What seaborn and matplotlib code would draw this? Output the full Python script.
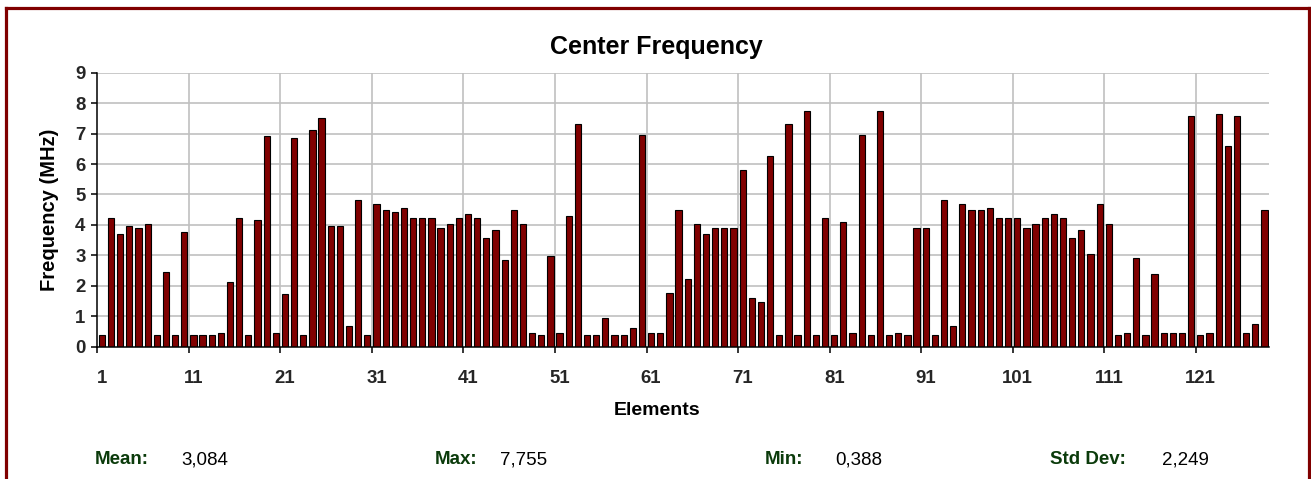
import matplotlib
matplotlib.use("Agg")
import matplotlib.pyplot as plt
from matplotlib.lines import Line2D
from matplotlib.ticker import FixedLocator
import seaborn as sns
import pandas as pd

# ---- data ----
elements = list(range(1, 129))
frequency = [
    0.388, 4.22, 3.70, 3.96, 3.89, 4.02, 0.388, 2.45, 0.388, 3.76,
    0.388, 0.388, 0.388, 0.45, 2.12, 4.22, 0.388, 4.15, 6.91, 0.45,
    1.72, 6.84, 0.388, 7.11, 7.50, 3.96, 3.96, 0.67, 4.81, 0.388,
    4.68, 4.48, 4.41, 4.54, 4.22, 4.22, 4.22, 3.89, 4.02, 4.22,
    4.35, 4.22, 3.56, 3.82, 2.84, 4.48, 4.02, 0.45, 0.388, 2.97,
    0.45, 4.29, 7.30, 0.388, 0.388, 0.93, 0.388, 0.388, 0.60, 6.97,
    0.45, 0.45, 1.78, 4.48, 2.24, 4.02, 3.69, 3.89, 3.89, 3.89,
    5.79, 1.59, 1.46, 6.25, 0.388, 7.30, 0.388, 7.755, 0.388, 4.22,
    0.388, 4.08, 0.45, 6.97, 0.388, 7.755, 0.388, 0.45, 0.388, 3.89,
    3.89, 0.388, 4.81, 0.67, 4.68, 4.48, 4.48, 4.54, 4.22, 4.22,
    4.22, 3.89, 4.02, 4.22, 4.35, 4.22, 3.56, 3.82, 3.03, 4.68,
    4.02, 0.388, 0.45, 2.90, 0.388, 2.38, 0.45, 0.45, 0.45, 7.57,
    0.388, 0.45, 7.63, 6.58, 7.57, 0.45, 0.73, 4.48,
]
y_ticks = list(range(0, 10))
x_tick_labels = ["1", "11", "21", "31", "41", "51", "61", "71", "81", "91", "101", "111", "121"]
stat_names = ["Mean:", "Max:", "Min:", "Std Dev:"]
stat_values = ["3,084", "7,755", "0,388", "2,249"]

df = pd.DataFrame({"Element": [str(e) for e in elements], "Frequency": frequency})

# ---- style ----
sns.set_theme(style="white")
plt.rcParams["font.family"] = ["Liberation Sans", "DejaVu Sans"]

W, H = 1311, 479
fig = plt.figure(figsize=(W / 100, H / 100), dpi=100)
fig.patch.set_facecolor("white")

def fx(px):
    return px / W

def fy(py):
    return 1 - py / H

ax_left, ax_right, ax_top, ax_bot = 97.3, 1269.0, 72.7, 346.7
ax = fig.add_axes([fx(ax_left), fy(ax_bot), fx(ax_right - ax_left), (ax_bot - ax_top) / H])

sns.barplot(data=df, x="Element", y="Frequency", order=df["Element"], color="#800000",
            saturation=1, width=0.68, edgecolor="black", linewidth=0.8, ax=ax, zorder=3)

ax.set_xlim(-0.5, len(elements) - 0.5)
ax.set_ylim(0, 9)
ax.set_xlabel("")
ax.set_ylabel("")

# y axis
ax.set_yticks(y_ticks)
ax.set_yticklabels([str(t) for t in y_ticks], fontweight="bold", fontsize=13.4)
ax.tick_params(axis="y", direction="out", length=4.5, width=1.1, color="black", pad=4, left=True)

# x axis: labels at category centres, tick marks at category boundaries
label_pos = [elements.index(int(t)) for t in x_tick_labels]
ax.set_xticks(label_pos)
ax.set_xticklabels(x_tick_labels, fontweight="bold", fontsize=13.4)
ax.tick_params(axis="x", which="major", length=0, pad=17)
ax.xaxis.set_minor_locator(FixedLocator([p - 0.5 for p in label_pos]))
ax.tick_params(axis="x", which="minor", direction="out", length=4.5, width=1.1, color="black", bottom=True)

# grid
ax.grid(False)
for y in y_ticks[1:]:
    ax.axhline(y, color="#c0c0c0", linewidth=1.2, zorder=1)
for p in label_pos[1:]:
    ax.axvline(p - 0.5, color="#c0c0c0", linewidth=1.2, zorder=1)

for s in ["top", "right"]:
    ax.spines[s].set_visible(False)
for s in ["left", "bottom"]:
    ax.spines[s].set_color("black")
    ax.spines[s].set_linewidth(1.1)
    ax.spines[s].set_zorder(4)

# titles and labels
fig.text(fx(656.5), fy(46.7), "Center Frequency", ha="center", va="center",
         fontsize=18, fontweight="bold", color="black")
fig.text(fx(657.5), fy(410.5), "Elements", ha="center", va="center",
         fontsize=14, fontweight="bold", color="black")
fig.text(fx(50), fy(210), "Frequency (MHz)", ha="center", va="center", rotation=90,
         fontsize=14.5, fontweight="bold", color="black")

# statistics row
name_x = [95, 435, 764.5, 1050.5]
value_x = [181.7, 500, 835.5, 1162]
for nx, vx, n, v in zip(name_x, value_x, stat_names, stat_values):
    fig.text(fx(nx), fy(460), n, ha="left", va="center", fontsize=13.5,
             fontweight="bold", color="#0b3b0b")
    fig.text(fx(vx), fy(460), v, ha="left", va="center", fontsize=13.5, color="black")

# dark red frame (left, top, right)
frame_col = "#800000"
lw = 2.3
fig.add_artist(Line2D([fx(5.5), fx(5.5)], [0, fy(7.5)], transform=fig.transFigure,
                      color=frame_col, linewidth=lw, solid_capstyle="projecting"))
fig.add_artist(Line2D([fx(5.5), fx(1308.5)], [fy(7.5), fy(7.5)], transform=fig.transFigure,
                      color=frame_col, linewidth=lw, solid_capstyle="projecting"))
fig.add_artist(Line2D([fx(1308.5), fx(1308.5)], [0, fy(7.5)], transform=fig.transFigure,
                      color=frame_col, linewidth=lw, solid_capstyle="projecting"))

fig.savefig("out.png", dpi=100)
